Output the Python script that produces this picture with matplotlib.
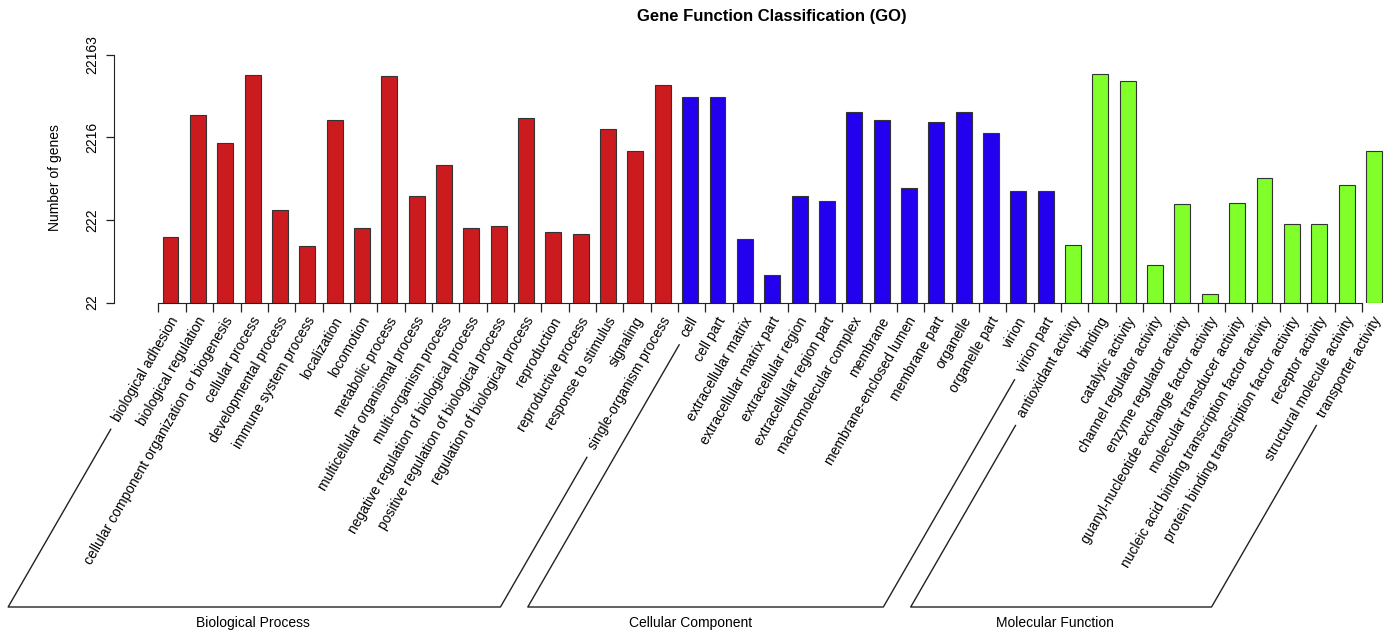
import matplotlib
matplotlib.use("Agg")
import matplotlib.pyplot as plt
from matplotlib import transforms
from matplotlib.lines import Line2D
from matplotlib.ticker import NullLocator, FixedLocator
import numpy as np

plt.rcParams['font.family'] = ['Liberation Sans', 'DejaVu Sans']

# GO terms and gene counts per category
bp_terms = [
    "biological adhesion", "biological regulation",
    "cellular component organization or biogenesis", "cellular process",
    "developmental process", "immune system process", "localization",
    "locomotion", "metabolic process", "multicellular organismal process",
    "multi-organism process", "negative regulation of biological process",
    "positive regulation of biological process",
    "regulation of biological process", "reproduction",
    "reproductive process", "response to stimulus", "signaling",
    "single-organism process",
]
bp_counts = [136, 4115, 1898, 12687, 289, 107, 3608, 175, 12340, 432,
             1034, 178, 187, 3850, 159, 150, 2783, 1518, 9677]

cc_terms = [
    "cell", "cell part", "extracellular matrix", "extracellular matrix part",
    "extracellular region", "extracellular region part",
    "macromolecular complex", "membrane", "membrane-enclosed lumen",
    "membrane part", "organelle", "organelle part", "virion", "virion part",
]
cc_counts = [6921, 6921, 131, 47, 435, 372, 4512, 3637, 544, 3418, 4475,
             2490, 496, 496]

mf_terms = [
    "antioxidant activity", "binding", "catalytic activity",
    "channel regulator activity", "enzyme regulator activity",
    "guanyl-nucleotide exchange factor activity",
    "molecular transducer activity",
    "nucleic acid binding transcription factor activity",
    "protein binding transcription factor activity", "receptor activity",
    "structural molecule activity", "transporter activity",
]
mf_counts = [110, 13045, 10730, 63, 342, 28, 358, 713, 199, 199, 587, 1529]

group_names = ["Biological Process", "Cellular Component", "Molecular Function"]
group_colors = ["#CC1B1F", "#2300EE", "#80FF2A"]
y_ticks = [22, 222, 2216, 22163]

groups = [(bp_terms, bp_counts), (cc_terms, cc_counts), (mf_terms, mf_counts)]

W, H = 1394, 635
fig = plt.figure(figsize=(W / 100, H / 100), dpi=100)


def fx(x):
    return x / W


def fy(y):
    return 1 - y / H


# plot region in pixel units (from top-left)
left_px, right_px, top_px, bot_px = 114, 1390, 55, 302.5
ax = fig.add_axes([fx(left_px), fy(bot_px), fx(right_px - left_px),
                   (bot_px - top_px) / H])

n_total = sum(len(t) for t, _ in groups)
first_px, step_px = 170.5, 27.35
ax.set_xlim(-(first_px - left_px) / step_px,
            (n_total - 1) + (right_px - (first_px + (n_total - 1) * step_px)) / step_px)
ax.set_yscale('log')
ax.set_ylim(y_ticks[0], y_ticks[-1])

base = y_ticks[0]
pos = 0
positions = []
for (terms, counts), color in zip(groups, group_colors):
    xs = np.arange(pos, pos + len(terms))
    vals = np.asarray(counts, dtype=float)
    ax.bar(xs, vals - base, bottom=base, width=0.585, color=color,
           edgecolor='#333333', linewidth=0.8, zorder=2)
    positions.append(xs)
    pos += len(terms)

# axes styling
for s in ('top', 'right'):
    ax.spines[s].set_visible(False)
ax.spines['left'].set_bounds(y_ticks[0], y_ticks[-1])
tick_x = np.arange(n_total) - 0.44
ax.spines['bottom'].set_bounds(tick_x[0], tick_x[-1])
ax.spines['left'].set_color('#222222')
ax.spines['bottom'].set_color('#222222')
ax.xaxis.set_major_locator(FixedLocator(tick_x))
ax.set_xticklabels([])
ax.tick_params(axis='x', direction='out', length=6.5, width=0.9, color='#222222')
ax.yaxis.set_major_locator(FixedLocator(y_ticks))
ax.yaxis.set_minor_locator(NullLocator())
ax.set_yticklabels([str(v) for v in y_ticks], rotation=90, va='center',
                   fontsize=10)
ax.tick_params(axis='y', direction='out', length=5.8, width=0.9,
               color='#222222', pad=5)

fig.text(fx(55), fy(178), "Number of genes", rotation=90, ha='center',
         va='center', fontsize=10)
fig.text(fx(772), fy(16), "Gene Function Classification (GO)", ha='center',
         va='center', fontsize=12, fontweight='bold')

# rotated category labels
lab_tr = transforms.offset_copy(
    transforms.blended_transform_factory(ax.transData, fig.transFigure),
    fig=fig, x=4.5, y=0, units='dots')
label_y = fy(318)
text_objs = []
for (terms, _), xs in zip(groups, positions):
    objs = []
    for x, term in zip(xs, terms):
        t = ax.text(x, label_y, term, transform=lab_tr, rotation=60,
                    rotation_mode='anchor', ha='right', va='center',
                    fontsize=10, clip_on=False)
        objs.append(t)
    text_objs.append(objs)

fig.canvas.draw()
renderer = fig.canvas.get_renderer()
ang = np.deg2rad(60)
d = np.array([np.cos(ang), np.sin(ang)])
gap = 10
y_line = H - 607  # display coords, origin bottom-left
group_label_x = [253, 691, 1055]


def label_start(t):
    w, h, _ = renderer.get_text_width_height_descent(
        t.get_text(), t.get_fontproperties(), ismath=False)
    a = t.get_transform().transform(t.get_position())
    return a - (w + gap) * d


for objs, name, gx in zip(text_objs, group_names, group_label_x):
    p0 = label_start(objs[0])
    p1 = label_start(objs[-1])
    b0 = p0[0] - (p0[1] - y_line) / np.tan(ang)
    b1 = p1[0] - (p1[1] - y_line) / np.tan(ang)
    xs_line = [p0[0], b0, b1, p1[0]]
    ys_line = [p0[1], y_line, y_line, p1[1]]
    fig.add_artist(Line2D([v / W for v in xs_line], [v / H for v in ys_line],
                          transform=fig.transFigure, color='#222222',
                          linewidth=1.0))
    fig.text(fx(gx), fy(623), name, ha='center', va='center', fontsize=10)

fig.savefig("out.png", dpi=100)
